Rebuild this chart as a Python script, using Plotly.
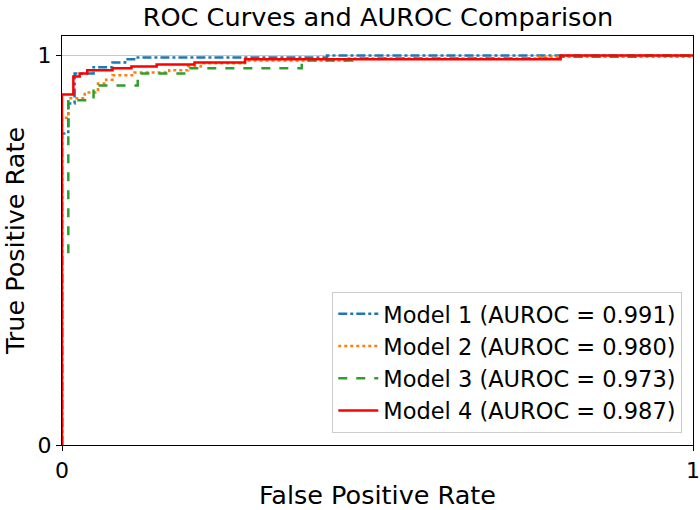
import plotly.graph_objects as go

# ROC step corners (fpr, tpr)
m1_fpr = [0.0, 0.0, 0.01, 0.02, 0.05, 0.08, 0.10, 0.12, 0.42, 1.0]
m1_tpr = [0.0, 0.80, 0.877, 0.954, 0.970, 0.982, 0.990, 0.995, 1.0, 1.0]

m2_fpr = [0.0, 0.0, 0.01, 0.036, 0.057, 0.07, 0.08, 0.115, 0.17, 0.20, 0.22, 0.29, 0.45, 0.75, 1.0]
m2_tpr = [0.0, 0.84, 0.89, 0.905, 0.928, 0.938, 0.949, 0.956, 0.962, 0.972, 0.980, 0.987, 0.992, 0.997, 1.0]

m3_fpr = [0.0, 0.0, 0.01, 0.05, 0.12, 0.20, 0.38, 0.46, 0.79, 0.92, 1.0]
m3_tpr = [0.0, 0.49, 0.885, 0.923, 0.954, 0.967, 0.987, 0.992, 0.997, 1.0, 1.0]

m4_fpr = [0.0, 0.0, 0.018, 0.028, 0.04, 0.08, 0.11, 0.15, 0.21, 0.29, 0.79, 1.0]
m4_tpr = [0.0, 0.90, 0.946, 0.954, 0.962, 0.967, 0.972, 0.977, 0.982, 0.990, 1.0, 1.0]

names = ["Model 1 (AUROC = 0.991)", "Model 2 (AUROC = 0.980)",
         "Model 3 (AUROC = 0.973)", "Model 4 (AUROC = 0.987)"]
colors = ["#1f77b4", "#ff7f0e", "#2ca02c", "#ff0000"]
dashes = ["dashdot", "dot", "dash", "solid"]

series = [(m1_fpr, m1_tpr), (m2_fpr, m2_tpr), (m3_fpr, m3_tpr), (m4_fpr, m4_tpr)]

fig = go.Figure()
for i, ((fx, ty), nm, c, d) in enumerate(zip(series, names, colors, dashes)):
    fig.add_trace(go.Scatter(
        x=fx, y=ty, mode="lines", name=nm, legendgroup=f"g{i}",
        line=dict(color=c, dash=d, width=2.5, shape="hv"),
    ))

fig.add_shape(type="line", xref="paper", yref="y", x0=0, x1=1, y0=1, y1=1,
              line=dict(color="#c8c8c8", width=1.2), layer="below")

font = "DejaVu Sans, Verdana, sans-serif"
fig.update_layout(
    width=700, height=510,
    margin=dict(l=62, r=7, t=36, b=65),
    paper_bgcolor="white", plot_bgcolor="white",
    font=dict(family=font, color="black"),
    title=dict(text="ROC Curves and AUROC Comparison", x=0.54, xanchor="center",
               y=0.967, yanchor="middle", font=dict(size=25.6, family=font)),
    xaxis=dict(range=[0, 1], tickvals=[0, 1], ticktext=["0", "1"], showgrid=False,
               zeroline=False, showline=True, linecolor="black", linewidth=1.2, mirror=True,
               ticks="outside", ticklen=5, tickcolor="black", tickfont=dict(size=22),
               automargin=False,
               title=dict(text="False Positive Rate", font=dict(size=25.5), standoff=6)),
    yaxis=dict(range=[0, 1.05], tickvals=[0, 1], ticktext=["0", "1"], showgrid=False,
               zeroline=False, showline=True, linecolor="black", linewidth=1.2, mirror=True,
               ticks="outside", ticklen=5, tickcolor="black", tickfont=dict(size=22),
               automargin=False,
               title=dict(text="True Positive Rate", font=dict(size=25.5), standoff=6)),
    legend=dict(x=0.983, y=0.03, xanchor="right", yanchor="bottom",
                bgcolor="white", bordercolor="#cccccc", borderwidth=1,
                font=dict(size=22.5), tracegroupgap=0, itemwidth=40),
    showlegend=True,
)

fig.write_html("out.html")
